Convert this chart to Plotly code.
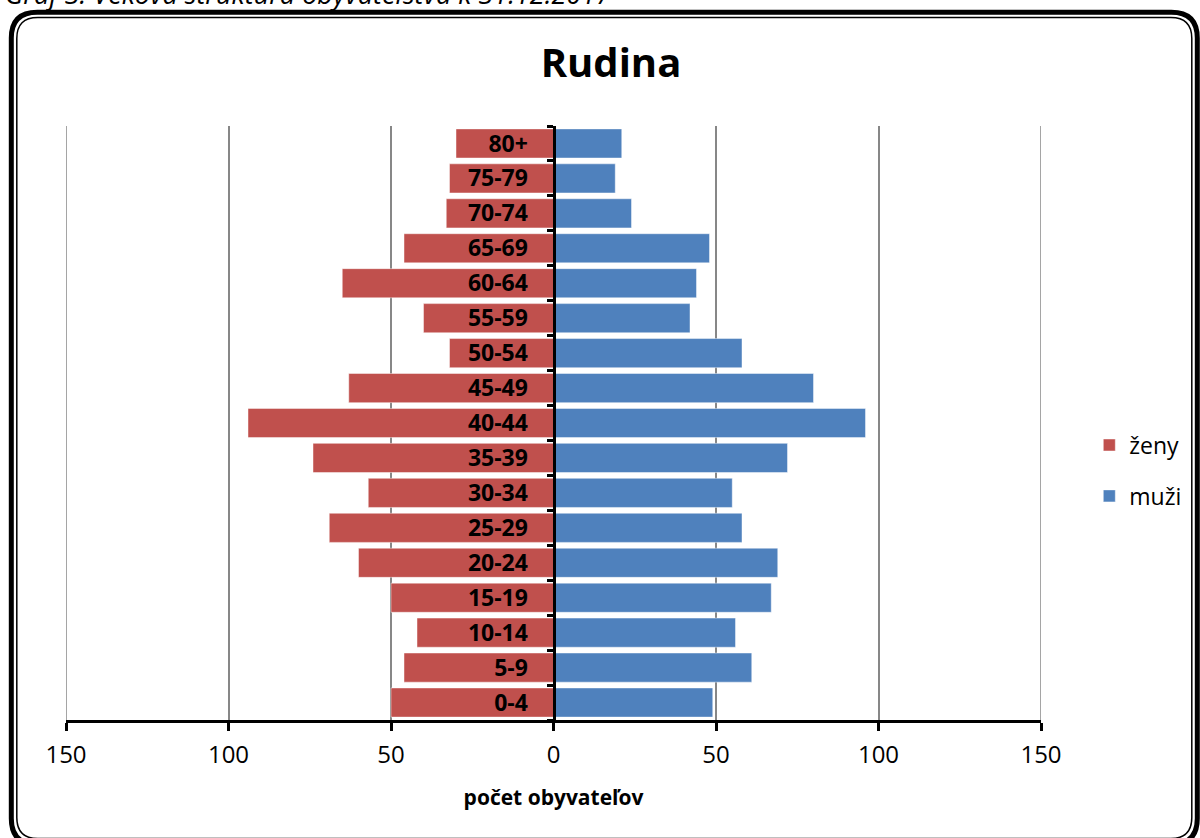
import plotly.graph_objects as go

# ---- data ----
age_groups = ["0-4", "5-9", "10-14", "15-19", "20-24", "25-29", "30-34", "35-39",
              "40-44", "45-49", "50-54", "55-59", "60-64", "65-69", "70-74", "75-79", "80+"]
zeny = [50, 46, 42, 50, 60, 69, 57, 74, 94, 63, 32, 40, 65, 46, 33, 32, 30]
muzi = [49, 61, 56, 67, 69, 58, 55, 72, 96, 80, 58, 42, 44, 48, 24, 19, 21]
x_tick_vals = [-150, -100, -50, 0, 50, 100, 150]
x_tick_text = ["150", "100", "50", "0", "50", "100", "150"]
x_range = [-150, 150]

W, H = 1200, 838
L, R = 65.7, 1040.7
T, B = 125.5, 720.3

def px(x):
    return (x - L) / (R - L)

def py(y):
    return 1 - (y - T) / (B - T)

FONT = "Open Sans"
GRID = "#878787"

fig = go.Figure()
fig.add_trace(go.Bar(
    y=age_groups, x=[-v for v in zeny], customdata=zeny, orientation="h", name="ženy",
    marker=dict(color="#C0504D", line=dict(color="rgba(255,255,255,0.45)", width=1)),
    hovertemplate="%{y}: %{customdata}<extra>ženy</extra>", legendgroup="z"))
fig.add_trace(go.Bar(
    y=age_groups, x=muzi, orientation="h", name="muži",
    marker=dict(color="#4F81BD", line=dict(color="rgba(255,255,255,0.45)", width=1)),
    hovertemplate="%{y}: %{x}<extra>muži</extra>", legendgroup="m"))

def rrect(x0, y0, x1, y1, r):
    pts = [
        ("M", [(x0 + r, y0)]),
        ("L", [(x1 - r, y0)]),
        ("Q", [(x1, y0), (x1, y0 + r)]),
        ("L", [(x1, y1 - r)]),
        ("Q", [(x1, y1), (x1 - r, y1)]),
        ("L", [(x0 + r, y1)]),
        ("Q", [(x0, y1), (x0, y1 - r)]),
        ("L", [(x0, y0 + r)]),
        ("Q", [(x0, y0), (x0 + r, y0)]),
    ]
    s = ""
    for cmd, ps in pts:
        s += cmd + " ".join(f"{px(a):.5f},{py(b):.5f}" for a, b in ps) + " "
    return s + "Z"

shapes = [
    dict(type="path", xref="paper", yref="paper", path=rrect(11, 11.5, 1197, 845, 26),
         line=dict(color="black", width=5), layer="above"),
    dict(type="path", xref="paper", yref="paper", path=rrect(16.5, 16.8, 1191.5, 839, 21),
         line=dict(color="black", width=1.5), layer="above"),
]
# gridlines at the range edges (plotly omits these)
for v in x_tick_vals:
    if v in x_range:
        shapes.append(dict(type="line", xref="x", yref="paper", x0=v, x1=v, y0=0, y1=1,
                           line=dict(color=GRID, width=1.5), layer="below"))

fig.update_layout(
    width=W, height=H,
    margin=dict(l=L, r=W - R, t=T, b=H - B, pad=0),
    paper_bgcolor="white", plot_bgcolor="white",
    barmode="overlay", bargap=0.166,
    font=dict(family=FONT, color="black", size=23),
    title=dict(text="<b>Rudina</b>", font=dict(family=FONT, size=40, color="black"),
               x=611 / W, xanchor="center", xref="container",
               y=1 - 63 / H, yanchor="middle", yref="container"),
    xaxis=dict(range=x_range, tickvals=x_tick_vals, ticktext=x_tick_text,
               showgrid=True, gridcolor=GRID, gridwidth=1.5, zeroline=False,
               showline=True, linecolor="black", linewidth=3,
               ticks="outside", ticklen=8, tickwidth=3, tickcolor="black",
               tickfont=dict(size=24), ticklabelstandoff=3,
               title=dict(text="<b>počet obyvateľov</b>", font=dict(size=21), standoff=22),
               fixedrange=True),
    yaxis=dict(type="category", categoryorder="array", categoryarray=age_groups,
               range=[-0.5, 16.5], anchor="free", position=0.5,
               showline=True, linecolor="black", linewidth=3, showgrid=False,
               ticks="outside", tickson="boundaries", ticklen=6, tickwidth=3, tickcolor="black",
               tickfont=dict(size=23, family=FONT, weight="bold"), ticklabelstandoff=20,
               fixedrange=True),
    legend=dict(x=px(1089), xanchor="left", y=py(470.5), yanchor="middle",
                font=dict(size=23), traceorder="grouped", tracegroupgap=18,
                bgcolor="rgba(0,0,0,0)"),
    shapes=shapes,
    annotations=[dict(text="<i>Graf 3: Veková štruktúra obyvateľstva k 31.12.2017</i>",
                      xref="paper", yref="paper", x=px(3), y=py(13), xanchor="left",
                      yanchor="bottom", showarrow=False, font=dict(size=27, family=FONT))],
)

fig.write_html("out.html", config={"displayModeBar": False},
               post_script="document.body.style.margin='0';document.body.style.overflow='hidden';")
